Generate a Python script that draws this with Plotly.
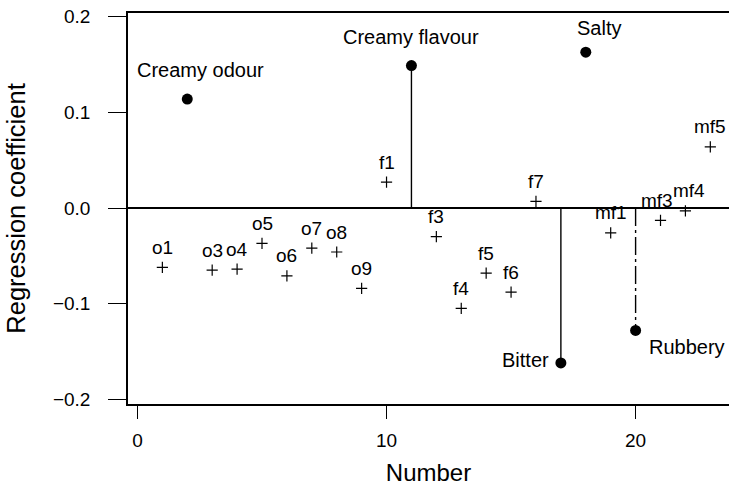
import plotly.graph_objects as go

# Regression coefficients for each sensory attribute, indexed by attribute number
numbers = list(range(1, 24))
labels = ["o1", "Creamy odour", "o3", "o4", "o5", "o6", "o7", "o8", "o9",
          "f1", "Creamy flavour", "f3", "f4", "f5", "f6", "f7",
          "Bitter", "Salty", "mf1", "Rubbery", "mf3", "mf4", "mf5"]
coefficients = [-0.062, 0.114, -0.065, -0.064, -0.037, -0.071, -0.042, -0.046, -0.084,
                0.027, 0.149, -0.030, -0.105, -0.068, -0.088, 0.007,
                -0.162, 0.163, -0.026, -0.128, -0.013, -0.003, 0.064]

# Attributes singled out as important, and those drawn with a stem to zero
important = ["Creamy odour", "Creamy flavour", "Bitter", "Salty", "Rubbery"]
solid_stems = ["Creamy flavour", "Bitter"]
dashed_stems = ["Rubbery"]

x_ticks = [0, 10, 20]
y_ticks = [-0.2, -0.1, 0.0, 0.1, 0.2]
y_tick_text = ["\u22120.2", "\u22120.1", "0.0", "0.1", "0.2"]

FONT = "Liberation Sans, Arial, sans-serif"

fig = go.Figure()


def stem_trace(names, dash):
    xs, ys = [], []
    for n, lab, v in zip(numbers, labels, coefficients):
        if lab in names:
            xs += [n, n, None]
            ys += [0, v, None]
    return go.Scatter(x=xs, y=ys, mode="lines", hoverinfo="skip",
                      line=dict(color="black", width=1.4, dash=dash),
                      showlegend=False)


fig.add_trace(stem_trace(solid_stems, "solid"))
fig.add_trace(stem_trace(dashed_stems, "18px,4px,3px,4px"))

minor_x = [n for n, lab in zip(numbers, labels) if lab not in important]
minor_y = [v for lab, v in zip(labels, coefficients) if lab not in important]
major_x = [n for n, lab in zip(numbers, labels) if lab in important]
major_y = [v for lab, v in zip(labels, coefficients) if lab in important]

fig.add_trace(go.Scatter(
    x=minor_x, y=minor_y, mode="markers", showlegend=False,
    marker=dict(symbol="cross-thin", size=8, line=dict(color="black", width=1.2)),
))
fig.add_trace(go.Scatter(
    x=major_x, y=major_y, mode="markers", showlegend=False,
    marker=dict(symbol="circle", size=11, color="black"),
))

# Text placement for the highlighted attributes: (xshift, yshift, xanchor)
major_text_pos = {
    "Creamy odour": (13, 29, "center"),
    "Creamy flavour": (0, 29, "center"),
    "Salty": (13, 24, "center"),
    "Bitter": (-10, 3, "right"),
    "Rubbery": (11, -17, "left"),
}
# Small sideways nudges so neighbouring minor labels stay apart
minor_nudge = {"mf3": -4, "mf4": 4}

for n, lab, v in zip(numbers, labels, coefficients):
    if lab in important:
        dx, dy, anchor = major_text_pos[lab]
        size = 20
    else:
        dx, dy, anchor = minor_nudge.get(lab, 0), 20, "center"
        size = 19
    fig.add_annotation(x=n, y=v, text=lab, showarrow=False,
                       xshift=dx, yshift=dy, xanchor=anchor, yanchor="middle",
                       font=dict(family=FONT, size=size, color="black"))

fig.update_layout(
    width=729, height=488,
    margin=dict(l=128, r=0, t=13, b=84),
    paper_bgcolor="white", plot_bgcolor="white",
    font=dict(family=FONT, color="black"),
    showlegend=False,
)

fig.update_xaxes(
    range=[-0.38, 23.75], tickvals=x_ticks, ticktext=[str(t) for t in x_ticks],
    ticks="outside", ticklen=13, tickwidth=1.3, tickcolor="black",
    ticklabelstandoff=5,
    showline=True, linecolor="black", linewidth=1.5, mirror=True,
    showgrid=False, zeroline=False,
    tickfont=dict(family=FONT, size=19, color="black"),
    title=dict(text="Number", standoff=15,
               font=dict(family=FONT, size=24, color="black")),
)

fig.update_yaxes(
    range=[-0.205, 0.204], tickvals=y_ticks, ticktext=y_tick_text,
    ticks="outside", ticklen=18, tickwidth=1.3, tickcolor="black",
    ticklabelstandoff=14,
    showline=True, linecolor="black", linewidth=1.5,
    showgrid=False,
    zeroline=True, zerolinecolor="black", zerolinewidth=1.5,
    tickfont=dict(family=FONT, size=19, color="black"),
    title=dict(text="Regression coefficient", standoff=20,
               font=dict(family=FONT, size=25.5, color="black")),
)

fig.write_html("out.html")
